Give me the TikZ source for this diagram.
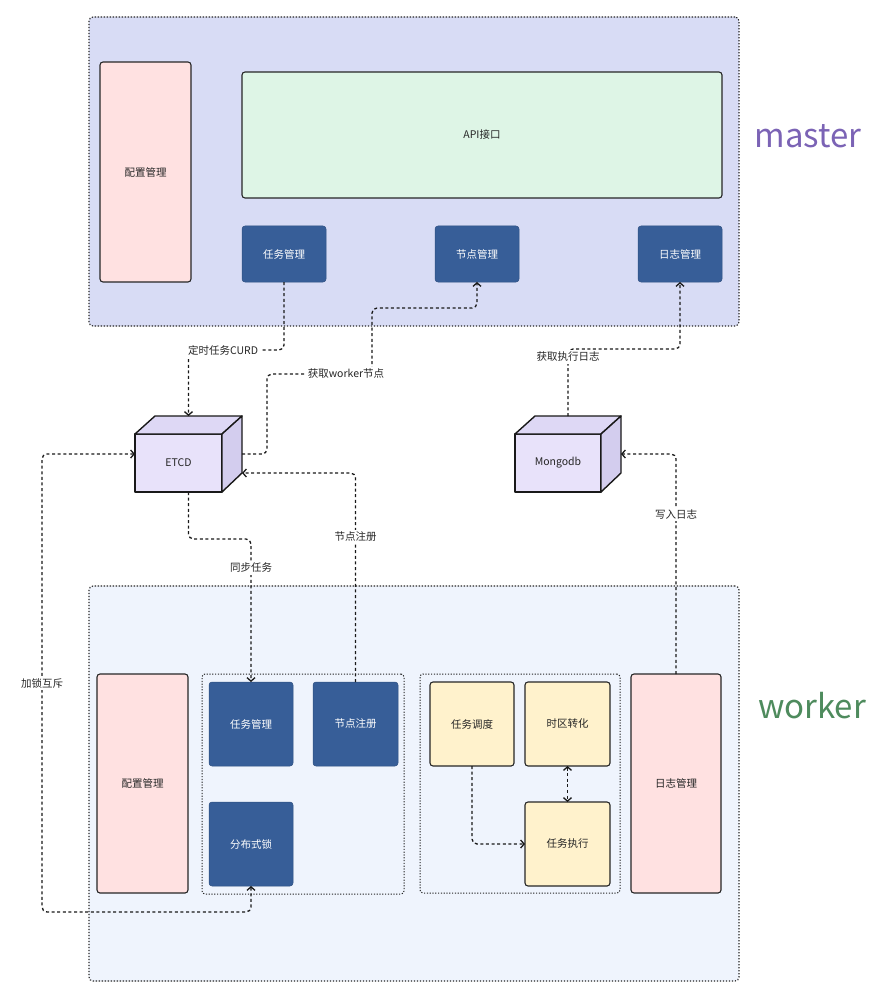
\documentclass[tikz,border=0pt]{standalone}
\usepackage{fontspec}
\setmainfont{Noto Sans CJK SC}
\usetikzlibrary{arrows.meta,calc}
\definecolor{masterbg}{HTML}{D8DCF5}
\definecolor{workerbg}{HTML}{EFF4FD}
\definecolor{pinkbox}{HTML}{FFE1E1}
\definecolor{greenbox}{HTML}{DEF5E6}
\definecolor{bluebox}{HTML}{375E98}
\definecolor{yellowbox}{HTML}{FFF2CC}
\definecolor{cubefrontc}{HTML}{E8E2FA}
\definecolor{cubetopc}{HTML}{DED8F5}
\definecolor{cubesidec}{HTML}{D3CDEE}
\definecolor{mastertext}{HTML}{7B63B5}
\definecolor{workertext}{HTML}{4E8B5D}
\definecolor{txt}{HTML}{262626}
\tikzset{
  container/.style={draw=black!85, line width=1.1pt, dash pattern=on 1.3pt off 1.7pt, rounded corners=4pt, inner sep=0pt, outer sep=0pt},
  group/.style={draw=black!85, line width=1.0pt, dash pattern=on 1.2pt off 1.6pt, rounded corners=3pt, inner sep=0pt, outer sep=0pt},
  boxbase/.style={rounded corners=3pt, inner sep=0pt, outer sep=0pt, font=\fontsize{10.5}{12}\selectfont},
  pinkstyle/.style={boxbase, draw=black!85, line width=1.1pt, fill=pinkbox, text=txt},
  greenstyle/.style={boxbase, draw=black!85, line width=1.1pt, fill=greenbox, text=txt},
  yellowstyle/.style={boxbase, draw=black!85, line width=1.1pt, fill=yellowbox, text=txt},
  bluestyle/.style={boxbase, fill=bluebox, draw=bluebox!85!black, line width=0.5pt, text=white},
  cubebox/.style={inner sep=0pt, outer sep=0pt, minimum width=107pt, minimum height=76pt},
  cubeface/.style={draw=black!90, line width=1.4pt, line join=round},
  conn/.style={line width=1.3pt, dash pattern=on 3pt off 2.6pt, rounded corners=5pt, black!90},
  tipe/.style={-{Straight Barb[length=3.5pt,width=8pt]}},
  tips/.style={{Straight Barb[length=3.5pt,width=8pt]}-},
  tipb/.style={{Straight Barb[length=3.5pt,width=8pt]}-{Straight Barb[length=3.5pt,width=8pt]}},
  lbl/.style={fill=white, inner sep=2.5pt, text=txt, font=\fontsize{10.5}{12}\selectfont},
  bigtxt/.style={font=\fontsize{33}{36}\selectfont, inner sep=0pt},
}
\newcommand\drawmycube[2]{%
  \filldraw[cubeface, fill=cubefrontc] (#1.south west) rectangle ($(#1.north east)+(-20,18)$);
  \filldraw[cubeface, fill=cubetopc] ($(#1.north west)+(0,18)$) -- ($(#1.north west)+(20,0)$) -- (#1.north east) -- ($(#1.north east)+(-20,18)$) -- cycle;
  \filldraw[cubeface, fill=cubesidec] ($(#1.north east)+(-20,18)$) -- (#1.north east) -- ($(#1.south east)+(0,-19)$) -- ($(#1.south east)+(-20,0)$) -- cycle;
  \node[text=txt, font=\fontsize{10.5}{12}\selectfont] (#1-label) at ($(#1.center)+(-10,9)$) {#2};
}
\begin{document}
\begin{tikzpicture}[x=1pt, y=-1pt]
\useasboundingbox (0,0) rectangle (880,1000);
\fill[white] (0,0) rectangle (880,1000);

% ---------- master ----------
\node[container, fill=masterbg, minimum width=650pt, minimum height=309pt] (master) at (414,171.5) {};
\node[pinkstyle, minimum width=91pt, minimum height=220pt] (mcfg) at (145.5,172) {配置管理};
\node[greenstyle, minimum width=480pt, minimum height=126pt] (api) at (482,135) {API接口};
\node[bluestyle, minimum width=84pt, minimum height=56pt] (mtask) at (284,254) {任务管理};
\node[bluestyle, minimum width=84pt, minimum height=56pt] (mnode) at (477,254) {节点管理};
\node[bluestyle, minimum width=84pt, minimum height=56pt] (mlog) at (680,254) {日志管理};
\node[bigtxt, text=mastertext] (mastertxt) at (808,136) {master};

% ---------- worker ----------
\node[container, fill=workerbg, minimum width=650pt, minimum height=395pt] (worker) at (414,783.5) {};
\node[group, minimum width=202pt, minimum height=220pt] (grp1) at (303,784) {};
\node[group, minimum width=200pt, minimum height=219pt] (grp2) at (520,783.5) {};
\node[pinkstyle, minimum width=91pt, minimum height=219pt] (wcfg) at (142.5,783.5) {配置管理};
\node[bluestyle, minimum width=84pt, minimum height=84pt] (wtask) at (251,724) {任务管理};
\node[bluestyle, minimum width=85pt, minimum height=84pt] (wreg) at (355.5,724) {节点注册};
\node[bluestyle, minimum width=84pt, minimum height=84pt] (wlock) at (251,844) {分布式锁};
\node[yellowstyle, minimum width=84pt, minimum height=84pt] (sched) at (472,724) {任务调度};
\node[yellowstyle, minimum width=85pt, minimum height=84pt] (tz) at (567.5,724) {时区转化};
\node[yellowstyle, minimum width=85pt, minimum height=84pt] (exec) at (567.5,844) {任务执行};
\node[pinkstyle, minimum width=90pt, minimum height=219pt] (wlog) at (676,783.5) {日志管理};
\node[bigtxt, text=workertext] (workertxt) at (812,706) {worker};

% ---------- cubes ----------
\node[cubebox] (etcd) at (188.5,454) {};
\drawmycube{etcd}{ETCD}
\node[cubebox, minimum width=106pt] (mongo) at (568,454) {};
\drawmycube{mongo}{Mongodb}

% ---------- connectors ----------
\draw[conn, tipe] (mtask.south) -- ++(0,68) -| (etcd.north);
\draw[conn, tipe] (etcd.east) -| ++(25,-80) -| ++(105,-66) -| (mnode.south);
\draw[conn, tipe] (mongo.north) -- ++(0,-67) -| (mlog.south);
\draw[conn, tipe] (etcd.south) -- ++(0,47) -| (wtask.north);
\draw[conn, tipe] (wreg.north) |- ($(etcd.east)+(0,19)$);
\draw[conn, tipe] (wlog.north) |- (mongo.east);
\draw[conn, tipb] (etcd.west) -| ++(-93,458) -| (wlock.south);
\draw[conn, tipe] (sched.south) |- (exec.west);
\draw[conn, tipb] (tz.south) -- (exec.north);

% ---------- labels ----------
\node[lbl] (l1) at (223,350) {定时任务CURD};
\node[lbl] (l2) at (346,374) {获取worker节点};
\node[lbl] (l3) at (568,357) {获取执行日志};
\node[lbl] (l4) at (251,568) {同步任务};
\node[lbl] (l5) at (355.5,537) {节点注册};
\node[lbl] (l6) at (676,514) {写入日志};
\node[lbl] (l7) at (42,683) {加锁互斥};
\end{tikzpicture}
\end{document}
